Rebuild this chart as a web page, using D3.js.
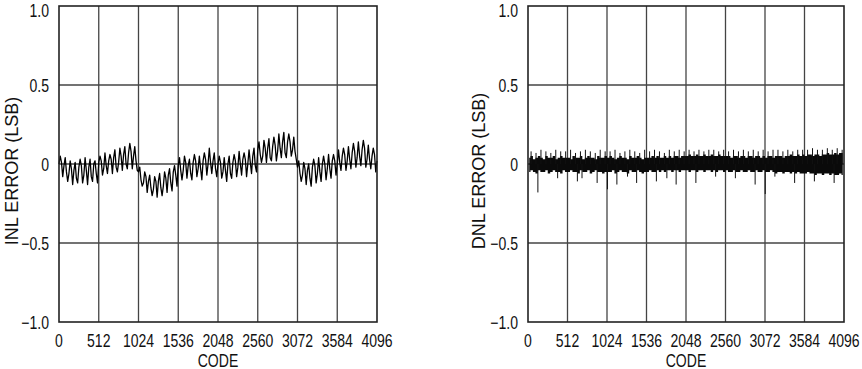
<!DOCTYPE html>
<html><head><meta charset="utf-8">
<script src="https://cdn.jsdelivr.net/npm/d3@7"></script>
<style>
html,body{margin:0;padding:0;background:#fff;}
svg{display:block;}
text{font-family:"Liberation Sans",Arial,sans-serif;fill:#111;}
</style></head>
<body>
<svg id="chart" width="862" height="369"></svg>
<script>
// ---- data ----
const xTicks = [0, 512, 1024, 1536, 2048, 2560, 3072, 3584, 4096];
const yTicks = [1, 0.5, 0, -0.5, -1];
const yTickLabels = ["1.0", "0.5", "0", "\u22120.5", "\u22121.0"];
const xTitle = "CODE";
const inlTitle = "INL ERROR (LSB)";
const dnlTitle = "DNL ERROR (LSB)";

// INL sampled every 16 codes (0..4096)
const inlStep = 16;
const inlValues = [
  0.00, 0.05, 0.01, -0.08,  -0.01, 0.04, -0.05, -0.11,  -0.06, 0.02, -0.03, -0.13,  -0.04, 0.01, -0.09, -0.12,
  -0.02, 0.03, -0.01, -0.12,  -0.07, 0.04, -0.04, -0.13,  -0.02, 0.03, -0.08, -0.11,  0.00, 0.02, -0.06, -0.12,
  0.01, 0.05, 0.02, -0.07,  -0.03, 0.07, -0.01, -0.06,  0.02, 0.06, 0.03, -0.06,  0.04, 0.09, -0.02, -0.05,
  0.01, 0.10, 0.05, -0.04,  0.06, 0.11, 0.00, -0.03,  0.07, 0.13, 0.08, -0.03,  0.05, 0.11, 0.02, -0.04,
  -0.05, -0.02, -0.10, -0.14,  -0.12, -0.05, -0.08, -0.18,  -0.11, -0.07, -0.15, -0.20,  -0.16, -0.08, -0.11, -0.21,
  -0.11, -0.06, -0.15, -0.20,  -0.14, -0.05, -0.09, -0.18,  -0.07, -0.03, -0.12, -0.17,  -0.05, -0.01, -0.07, -0.14,
  -0.01, 0.04, -0.04, -0.10,  -0.04, 0.05, 0.01, -0.09,  -0.01, 0.03, -0.06, -0.10,  0.01, 0.06, 0.02, -0.08,
  -0.03, 0.05, -0.03, -0.10,  0.02, 0.07, 0.03, -0.07,  0.00, 0.10, 0.01, -0.06,  0.02, 0.07, -0.03, -0.08,
  0.00, 0.05, 0.01, -0.09,  -0.05, 0.04, -0.04, -0.11,  0.00, 0.05, -0.06, -0.09,  0.01, 0.06, 0.02, -0.08,
  -0.02, 0.08, 0.00, -0.07,  0.03, 0.07, 0.03, -0.08,  0.00, 0.09, 0.01, -0.06,  0.05, 0.10, -0.01, -0.05,
  0.09, 0.14, 0.06, 0.01,  0.05, 0.15, 0.10, 0.01,  0.10, 0.16, 0.04, 0.02,  0.11, 0.17, 0.12, 0.02,
  0.08, 0.19, 0.10, 0.04,  0.14, 0.20, 0.07, 0.04,  0.14, 0.19, 0.14, 0.05,  0.09, 0.17, 0.08, 0.03,
  -0.02, 0.02, -0.06, -0.11,  -0.07, 0.01, -0.03, -0.13,  -0.04, 0.00, -0.09, -0.14,  -0.02, 0.03, -0.01, -0.12,
  -0.06, 0.04, -0.05, -0.11,  0.00, 0.05, 0.00, -0.10,  -0.03, 0.06, -0.03, -0.09,  0.02, 0.06, 0.02, -0.07,
  0.00, 0.09, 0.01, -0.04,  0.05, 0.10, 0.06, -0.04,  0.02, 0.11, 0.03, -0.03,  0.07, 0.13, 0.08, -0.02,
  0.04, 0.14, 0.05, -0.01,  0.09, 0.15, 0.10, -0.02,  0.03, 0.12, 0.03, -0.03,  0.05, 0.10, 0.06, -0.05,
  0.02
];

// DNL: noise band upper / lower values per 32-code bin
const dnlBin = 32;
const dnlHi = [
  0.04,0.05,0.03,0.04,0.05,0.04,0.03,0.05,0.04,0.04,0.05,0.03,0.04,0.05,0.04,0.04,
  0.04,0.03,0.05,0.04,0.04,0.05,0.03,0.04,0.05,0.04,0.04,0.03,0.05,0.04,0.04,0.05,
  0.04,0.05,0.04,0.03,0.04,0.05,0.04,0.04,0.03,0.05,0.04,0.04,0.05,0.04,0.03,0.04,
  0.04,0.04,0.05,0.04,0.05,0.04,0.04,0.05,0.04,0.05,0.04,0.05,0.05,0.04,0.05,0.05,
  0.05,0.06,0.05,0.05,0.06,0.05,0.05,0.06,0.05,0.05,0.06,0.05,0.05,0.06,0.05,0.05,
  0.05,0.05,0.04,0.05,0.05,0.04,0.05,0.05,0.04,0.05,0.05,0.04,0.05,0.05,0.04,0.05,
  0.04,0.05,0.05,0.04,0.05,0.05,0.05,0.04,0.05,0.05,0.06,0.05,0.05,0.06,0.05,0.06,
  0.05,0.06,0.06,0.05,0.06,0.06,0.05,0.06,0.06,0.07,0.06,0.06,0.07,0.06,0.07,0.07
];
const dnlLo = [
  -0.05,-0.04,-0.05,-0.06,-0.04,-0.05,-0.05,-0.04,-0.06,-0.05,-0.04,-0.05,-0.05,-0.06,-0.04,-0.05,
  -0.05,-0.04,-0.05,-0.05,-0.06,-0.04,-0.05,-0.05,-0.04,-0.06,-0.05,-0.04,-0.05,-0.05,-0.06,-0.05,
  -0.05,-0.05,-0.04,-0.06,-0.05,-0.04,-0.05,-0.05,-0.06,-0.04,-0.05,-0.05,-0.04,-0.05,-0.06,-0.05,
  -0.05,-0.04,-0.05,-0.05,-0.04,-0.05,-0.04,-0.05,-0.04,-0.04,-0.05,-0.04,-0.04,-0.05,-0.04,-0.04,
  -0.04,-0.05,-0.04,-0.04,-0.05,-0.04,-0.04,-0.05,-0.04,-0.04,-0.05,-0.04,-0.05,-0.04,-0.04,-0.05,
  -0.04,-0.05,-0.05,-0.04,-0.05,-0.05,-0.04,-0.05,-0.05,-0.04,-0.05,-0.05,-0.04,-0.05,-0.05,-0.04,
  -0.05,-0.05,-0.04,-0.05,-0.06,-0.05,-0.05,-0.06,-0.05,-0.05,-0.06,-0.05,-0.06,-0.05,-0.06,-0.06,
  -0.06,-0.05,-0.06,-0.06,-0.07,-0.06,-0.06,-0.07,-0.06,-0.06,-0.07,-0.06,-0.07,-0.07,-0.06,-0.07
];
// DNL upward spikes, one every 64 codes (offset 40)
const dnlUpStep = 64;
const dnlUp = [
  0.08,0.07,0.09,0.08,0.07,0.09,0.08,0.08,  0.09,0.07,0.08,0.09,0.08,0.07,0.09,0.08,
  0.08,0.09,0.07,0.08,0.09,0.08,0.07,0.09,  0.08,0.09,0.08,0.07,0.09,0.08,0.09,0.08,
  0.09,0.08,0.09,0.08,0.09,0.09,0.08,0.09,  0.08,0.09,0.08,0.09,0.08,0.09,0.08,0.09,
  0.08,0.09,0.09,0.08,0.09,0.08,0.09,0.09,  0.09,0.10,0.09,0.09,0.10,0.09,0.10,0.09
];
// DNL downward spikes
const dnlDownCodes = [128, 384, 640, 700, 896, 1030, 1152, 1290, 1408, 1664, 1800, 1920, 2176, 2432, 2688, 2944, 3075, 3200, 3456, 3712, 3968];
const dnlDownVals  = [-0.18, -0.09, -0.11, -0.09, -0.12, -0.16, -0.13, -0.08, -0.12, -0.11, -0.09, -0.13, -0.12, -0.08, -0.09, -0.13, -0.19, -0.08, -0.12, -0.11, -0.12];

// ---- drawing ----
const svg = d3.select("#chart");
const panels = [
  {x0: 59, x1: 377, title: inlTitle, kind: "inl", titleX: 18},
  {x0: 528, x1: 844, title: dnlTitle, kind: "dnl", titleX: 485}
];
const yTop = 6, yBot = 322;
const y = d3.scaleLinear().domain([-1, 1]).range([yBot, yTop]);
const FS = 18, SX = 0.78; // condensed look

function label(g, tx, ty, str, anchor, rot, sx) {
  g.append("text")
    .attr("transform", `translate(${tx},${ty})${rot ? " rotate(-90)" : ""} scale(${sx || SX},1)`)
    .attr("text-anchor", anchor).attr("font-size", FS).text(str);
}

panels.forEach(p => {
  const x = d3.scaleLinear().domain([0, 4096]).range([p.x0, p.x1]);
  const g = svg.append("g");

  // grid
  g.selectAll(".vg").data(xTicks.slice(1, -1)).enter().append("line")
    .attr("x1", d => x(d)).attr("x2", d => x(d)).attr("y1", yTop).attr("y2", yBot)
    .attr("stroke", "#444").attr("stroke-width", 1.3);
  g.selectAll(".hg").data(yTicks.slice(1, -1)).enter().append("line")
    .attr("x1", p.x0).attr("x2", p.x1).attr("y1", d => y(d)).attr("y2", d => y(d))
    .attr("stroke", "#444").attr("stroke-width", 1.3);

  // data
  if (p.kind === "inl") {
    const pts = inlValues.map((v, i) => [i * inlStep, v]);
    const line = d3.line().x(d => x(d[0])).y(d => y(d[1]));
    g.append("path").datum(pts).attr("d", line)
      .attr("fill", "none").attr("stroke", "#000").attr("stroke-width", 1.3)
      .attr("stroke-linejoin", "round");
  } else {
    const band = dnlHi.map((v, i) => ({c: i * dnlBin + dnlBin / 2, hi: v, lo: dnlLo[i]}));
    const area = d3.area().x(d => x(d.c)).y0(d => y(d.lo)).y1(d => y(d.hi)).curve(d3.curveStep);
    g.append("path").datum(band).attr("d", area).attr("fill", "#0a0a0a");
    const spikes = dnlUp.map((v, i) => [i * dnlUpStep + 40, v])
      .concat(dnlDownCodes.map((c, i) => [c, dnlDownVals[i]]));
    g.selectAll(".sp").data(spikes).enter().append("line")
      .attr("x1", d => x(d[0])).attr("x2", d => x(d[0]))
      .attr("y1", y(0)).attr("y2", d => y(d[1]))
      .attr("stroke", "#111").attr("stroke-width", 1);
  }

  // frame
  g.append("rect").attr("x", p.x0).attr("y", yTop).attr("width", p.x1 - p.x0).attr("height", yBot - yTop)
    .attr("fill", "none").attr("stroke", "#222").attr("stroke-width", 1.6);

  // y tick labels
  yTicks.forEach((d, i) => label(g, p.x0 - 10, Math.max(y(d) + 6.5, 16.5), yTickLabels[i], "end"));
  // x tick labels
  xTicks.forEach(d => label(g, x(d), 347, String(d), "middle"));
  // x title
  label(g, (p.x0 + p.x1) / 2, 366.5, xTitle, "middle");
  // y title
  label(g, p.titleX, 171, p.title, "middle", true, 1.0);
});
</script>
</body></html>
